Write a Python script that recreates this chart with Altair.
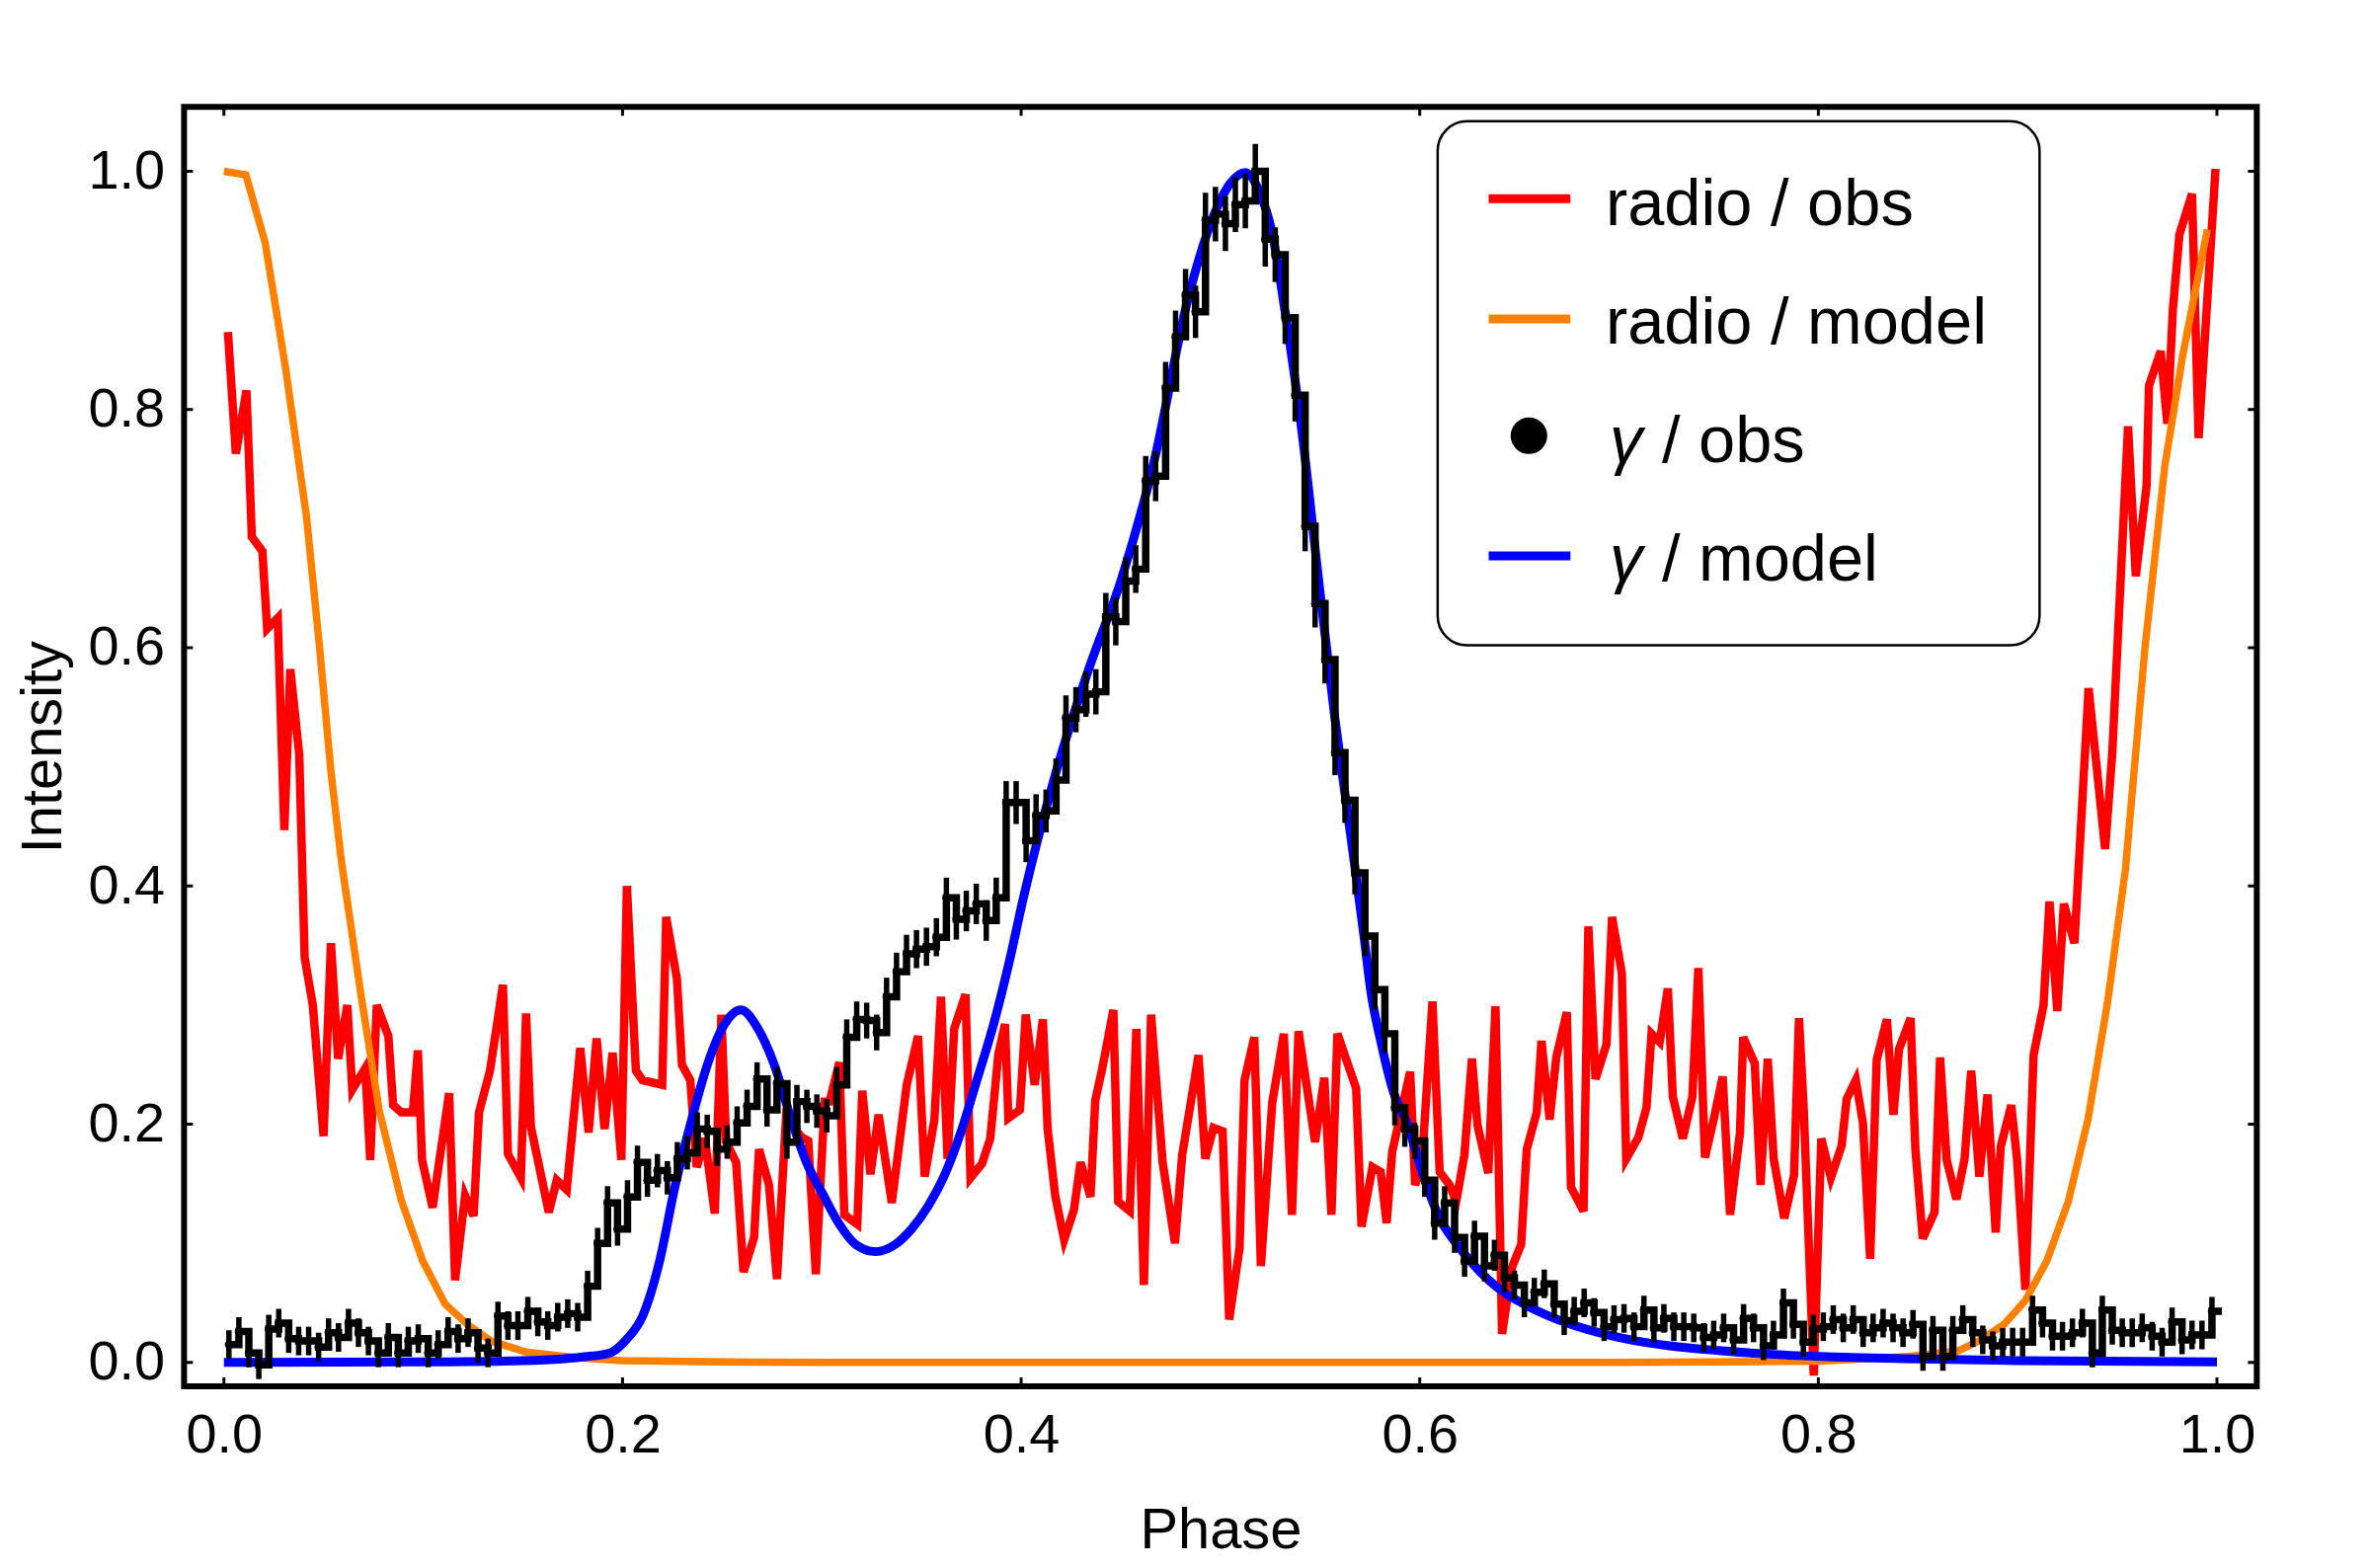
import altair as alt
import pandas as pd

# ---------------- data ----------------
# radio / obs (red) : vertices of the noisy profile
red_phase = [0.002, 0.006, 0.0113, 0.014, 0.0193, 0.0217, 0.027, 0.0303, 0.0333, 0.0378,
             0.0405, 0.0446, 0.050, 0.0537, 0.0573, 0.0619, 0.0644, 0.0709, 0.0734, 0.0767,
             0.0825, 0.0849, 0.089, 0.0948, 0.0973, 0.0994, 0.1047, 0.113, 0.116, 0.121,
             0.1253, 0.128, 0.1335, 0.140, 0.1425, 0.149, 0.1516, 0.154, 0.163, 0.167,
             0.172, 0.1788, 0.183, 0.187, 0.191, 0.195, 0.1994, 0.2022, 0.2067, 0.210,
             0.2199, 0.2219, 0.2273, 0.2298, 0.234, 0.2372, 0.2413, 0.2463, 0.2496, 0.252,
             0.257, 0.2607, 0.266, 0.2685, 0.2735, 0.2775, 0.282, 0.2899, 0.2932, 0.297,
             0.3014, 0.3039, 0.3088, 0.3113, 0.3178, 0.3203, 0.3244, 0.3285, 0.3351, 0.3426,
             0.3483, 0.3516, 0.3565, 0.3598, 0.3631, 0.3664, 0.3721, 0.3746, 0.3804, 0.3845,
             0.3886, 0.3919, 0.3936, 0.3994, 0.4023, 0.4068, 0.4109, 0.4133, 0.4171, 0.4216,
             0.4265, 0.4298, 0.4348, 0.4372, 0.4405, 0.4463, 0.4487, 0.4545, 0.4578, 0.4616,
             0.4652, 0.471, 0.4772, 0.4808, 0.489, 0.4924, 0.4965, 0.5011, 0.5044, 0.5096,
             0.5121, 0.517, 0.5203, 0.526, 0.5318, 0.5359, 0.5392, 0.5475, 0.5521, 0.5557,
             0.5587, 0.5681, 0.5708, 0.5763, 0.5804, 0.5834, 0.5862, 0.5952, 0.5977, 0.601,
             0.6064, 0.610, 0.615, 0.6183, 0.6224, 0.6262, 0.629, 0.6344, 0.638, 0.6413,
             0.6463, 0.6509, 0.6537, 0.6587, 0.6611, 0.6652, 0.6685, 0.6738, 0.6759, 0.6822,
             0.6846, 0.6882, 0.6937, 0.6965, 0.7014, 0.7036, 0.7097, 0.7138, 0.7163, 0.7204,
             0.7245, 0.727, 0.732, 0.7368, 0.7398, 0.7431, 0.7475, 0.752, 0.7557, 0.7607,
             0.7623, 0.7681, 0.771, 0.7746, 0.7776, 0.7829, 0.7878, 0.7903, 0.7927, 0.7977,
             0.8015, 0.8063, 0.8117, 0.8142, 0.8188, 0.8224, 0.826, 0.8293, 0.8344, 0.8377,
             0.8405, 0.8463, 0.8487, 0.8524, 0.8583, 0.8611, 0.8644, 0.8693, 0.8734, 0.8767,
             0.8808, 0.8849, 0.889, 0.8915, 0.8968, 0.8997, 0.9039, 0.908, 0.913, 0.916,
             0.9199, 0.9232, 0.9285, 0.9356, 0.9439, 0.9475, 0.9554, 0.9593, 0.9647, 0.9659,
             0.9718, 0.9751, 0.9779, 0.9812, 0.9875, 0.9908, 0.9993]
red_value = [0.865, 0.763, 0.816, 0.693, 0.681, 0.616, 0.625, 0.447, 0.582, 0.510,
             0.340, 0.300, 0.190, 0.352, 0.255, 0.300, 0.229, 0.247, 0.170, 0.300,
             0.274, 0.216, 0.210, 0.210, 0.262, 0.170, 0.130, 0.226, 0.069, 0.140,
             0.123, 0.210, 0.245, 0.317, 0.175, 0.155, 0.293, 0.198, 0.126, 0.153,
             0.145, 0.264, 0.193, 0.272, 0.196, 0.260, 0.170, 0.400, 0.245, 0.237,
             0.233, 0.374, 0.322, 0.250, 0.237, 0.164, 0.188, 0.125, 0.292, 0.185,
             0.168, 0.076, 0.105, 0.179, 0.149, 0.070, 0.205, 0.189, 0.186, 0.074,
             0.219, 0.219, 0.252, 0.124, 0.116, 0.228, 0.158, 0.208, 0.134, 0.233,
             0.274, 0.156, 0.204, 0.307, 0.171, 0.280, 0.309, 0.155, 0.167, 0.188,
             0.259, 0.284, 0.205, 0.212, 0.292, 0.233, 0.288, 0.196, 0.140, 0.103,
             0.128, 0.168, 0.139, 0.220, 0.245, 0.296, 0.135, 0.127, 0.280, 0.065,
             0.292, 0.168, 0.100, 0.174, 0.258, 0.171, 0.197, 0.194, 0.036, 0.096,
             0.237, 0.273, 0.081, 0.218, 0.276, 0.124, 0.278, 0.185, 0.239, 0.124,
             0.276, 0.230, 0.114, 0.164, 0.160, 0.117, 0.177, 0.244, 0.149, 0.165,
             0.303, 0.160, 0.149, 0.135, 0.174, 0.255, 0.199, 0.159, 0.299, 0.024,
             0.080, 0.099, 0.179, 0.210, 0.270, 0.204, 0.256, 0.294, 0.147, 0.127,
             0.366, 0.238, 0.267, 0.374, 0.327, 0.171, 0.189, 0.214, 0.276, 0.269,
             0.314, 0.223, 0.188, 0.223, 0.331, 0.172, 0.204, 0.240, 0.124, 0.193,
             0.273, 0.251, 0.149, 0.255, 0.171, 0.121, 0.157, 0.289, 0.212, -0.011,
             0.188, 0.155, 0.182, 0.221, 0.237, 0.201, 0.087, 0.254, 0.288, 0.208,
             0.263, 0.289, 0.179, 0.104, 0.126, 0.256, 0.170, 0.137, 0.171, 0.245,
             0.156, 0.225, 0.109, 0.181, 0.216, 0.171, 0.061, 0.258, 0.300, 0.387,
             0.295, 0.385, 0.352, 0.566, 0.431, 0.512, 0.786, 0.660, 0.736, 0.820,
             0.849, 0.788, 0.884, 0.947, 0.981, 0.776, 1.002]

# radio / model (orange)
orange_phase = [0.0, 0.011, 0.0207, 0.031, 0.0415, 0.048, 0.0537, 0.059, 0.069, 0.078,
                0.089, 0.0998, 0.111, 0.1228, 0.134, 0.152, 0.177, 0.200, 0.250, 0.300,
                0.400, 0.500, 0.600, 0.700, 0.800, 0.8454, 0.8701, 0.8817, 0.8932, 0.9039,
                0.9146, 0.9254, 0.9353, 0.9452, 0.9541, 0.9639, 0.9738, 0.9829, 0.9952]
orange_value = [1.0, 0.997, 0.940, 0.834, 0.709, 0.600, 0.496, 0.420, 0.306, 0.211,
                0.136, 0.085, 0.049, 0.031, 0.018, 0.0085, 0.004, 0.0015, 0.0005, 0.0,
                0.0, 0.0, 0.0, 0.0, 0.001, 0.005, 0.0097, 0.019, 0.032, 0.052,
                0.085, 0.135, 0.204, 0.303, 0.414, 0.600, 0.752, 0.846, 0.951]

# gamma / model (blue)
blue_phase = [0.0, 0.10, 0.15, 0.17, 0.1825, 0.1936, 0.2018, 0.2101, 0.2183, 0.2265,
              0.2347, 0.2430, 0.2512, 0.2594, 0.2677, 0.2759, 0.2841, 0.2923, 0.3006, 0.3088,
              0.3170, 0.3269, 0.3368, 0.3450, 0.3532, 0.3615, 0.3697, 0.3778, 0.3862, 0.3944,
              0.4010, 0.4174, 0.4339, 0.4504, 0.4668, 0.4833, 0.4998, 0.5050, 0.5125, 0.5190,
              0.5261, 0.5327, 0.5410, 0.5492, 0.5575, 0.5657, 0.5720, 0.5755, 0.5804, 0.5870,
              0.5936, 0.6018, 0.6100, 0.6183, 0.6265, 0.6347, 0.6430, 0.6512, 0.6594, 0.6759,
              0.6924, 0.7088, 0.7253, 0.7500, 0.7746, 0.8010, 0.8500, 0.9000, 1.0]
blue_value = [0.0, 0.0005, 0.0015, 0.003, 0.005, 0.008, 0.019, 0.039, 0.083, 0.149,
              0.204, 0.252, 0.284, 0.296, 0.281, 0.251, 0.207, 0.168, 0.141, 0.116,
              0.099, 0.093, 0.099, 0.112, 0.131, 0.157, 0.193, 0.237, 0.284, 0.339,
              0.389, 0.495, 0.582, 0.658, 0.757, 0.890, 0.975, 0.990, 0.999, 0.985,
              0.947, 0.879, 0.780, 0.658, 0.540, 0.438, 0.358, 0.311, 0.270, 0.226,
              0.201, 0.157, 0.121, 0.100, 0.083, 0.069, 0.058, 0.050, 0.043, 0.032,
              0.024, 0.018, 0.014, 0.010, 0.007, 0.005, 0.003, 0.0015, 0.0005]

# gamma / obs (black histogram, 200 bins of width 0.005)
gamma_value = [0.015, 0.026, 0.008, -0.002, 0.028, 0.033, 0.020, 0.018, 0.018, 0.013,
               0.025, 0.021, 0.033, 0.025, 0.018, 0.008, 0.021, 0.008, 0.018, 0.020,
               0.008, 0.015, 0.026, 0.020, 0.025, 0.012, 0.008, 0.039, 0.031, 0.031,
               0.043, 0.034, 0.031, 0.038, 0.041, 0.038, 0.064, 0.100, 0.134, 0.112,
               0.139, 0.168, 0.153, 0.161, 0.155, 0.171, 0.176, 0.196, 0.194, 0.179,
               0.185, 0.201, 0.215, 0.238, 0.212, 0.234, 0.185, 0.219, 0.215, 0.211,
               0.207, 0.233, 0.273, 0.288, 0.287, 0.277, 0.307, 0.328, 0.343, 0.347,
               0.349, 0.357, 0.390, 0.372, 0.379, 0.385, 0.371, 0.390, 0.470, 0.470,
               0.438, 0.459, 0.463, 0.489, 0.541, 0.548, 0.561, 0.563, 0.626, 0.622,
               0.656, 0.666, 0.740, 0.744, 0.818, 0.861, 0.896, 0.882, 0.959, 0.964,
               0.956, 0.972, 0.975, 1.000, 0.943, 0.930, 0.877, 0.812, 0.702, 0.637,
               0.590, 0.512, 0.472, 0.411, 0.358, 0.313, 0.276, 0.214, 0.196, 0.186,
               0.153, 0.117, 0.134, 0.105, 0.085, 0.106, 0.081, 0.090, 0.071, 0.065,
               0.050, 0.059, 0.066, 0.049, 0.035, 0.043, 0.050, 0.042, 0.030, 0.036,
               0.037, 0.030, 0.044, 0.029, 0.037, 0.030, 0.030, 0.029, 0.021, 0.023,
               0.029, 0.019, 0.037, 0.029, 0.014, 0.023, 0.050, 0.032, 0.017, 0.028,
               0.030, 0.036, 0.029, 0.036, 0.025, 0.029, 0.033, 0.029, 0.025, 0.032,
               0.005, 0.027, 0.005, 0.027, 0.036, 0.025, 0.019, 0.014, 0.017, 0.017,
               0.017, 0.044, 0.033, 0.022, 0.022, 0.025, 0.033, 0.008, 0.044, 0.027,
               0.025, 0.025, 0.029, 0.022, 0.017, 0.034, 0.019, 0.023, 0.023, 0.043]
gamma_err = [0.012, 0.012, 0.012, 0.012, 0.012, 0.012, 0.012, 0.012, 0.012, 0.012,
             0.012, 0.012, 0.012, 0.012, 0.012, 0.012, 0.012, 0.012, 0.012, 0.012,
             0.012, 0.012, 0.012, 0.012, 0.012, 0.012, 0.012, 0.012, 0.012, 0.012,
             0.012, 0.012, 0.012, 0.012, 0.012, 0.012, 0.013, 0.013, 0.014, 0.014,
             0.014, 0.014, 0.014, 0.014, 0.014, 0.014, 0.014, 0.014, 0.014, 0.014,
             0.014, 0.014, 0.014, 0.014, 0.014, 0.014, 0.014, 0.014, 0.014, 0.014,
             0.014, 0.015, 0.015, 0.015, 0.015, 0.015, 0.016, 0.016, 0.016, 0.016,
             0.016, 0.016, 0.017, 0.017, 0.017, 0.017, 0.017, 0.017, 0.018, 0.018,
             0.018, 0.018, 0.018, 0.018, 0.019, 0.019, 0.019, 0.019, 0.020, 0.020,
             0.020, 0.020, 0.021, 0.021, 0.022, 0.022, 0.022, 0.022, 0.023, 0.023,
             0.023, 0.023, 0.023, 0.023, 0.023, 0.023, 0.022, 0.022, 0.021, 0.020,
             0.020, 0.019, 0.019, 0.018, 0.017, 0.017, 0.016, 0.015, 0.015, 0.015,
             0.014, 0.014, 0.014, 0.013, 0.013, 0.013, 0.013, 0.013, 0.012, 0.012,
             0.012, 0.012, 0.012, 0.012, 0.012, 0.012, 0.012, 0.012, 0.012, 0.012,
             0.012, 0.012, 0.012, 0.012, 0.012, 0.012, 0.012, 0.012, 0.012, 0.012,
             0.012, 0.012, 0.012, 0.012, 0.012, 0.012, 0.012, 0.012, 0.012, 0.012,
             0.012, 0.012, 0.012, 0.012, 0.012, 0.012, 0.012, 0.012, 0.012, 0.012,
             0.012, 0.012, 0.012, 0.012, 0.012, 0.012, 0.012, 0.012, 0.012, 0.012,
             0.012, 0.012, 0.012, 0.012, 0.012, 0.012, 0.012, 0.012, 0.012, 0.012,
             0.012, 0.012, 0.012, 0.012, 0.012, 0.012, 0.012, 0.012, 0.012, 0.012]
bin_width = 0.005

tick_values = [0.0, 0.2, 0.4, 0.6, 0.8, 1.0]

legend_labels = ["radio / obs", "radio / model"]
legend_gamma_rest = ["/ obs", "/ model"]
legend_colors = ["#ff0000", "#ff8000", "#0000ff"]

# ---------------- frames ----------------
red_df = pd.DataFrame({"phase": red_phase, "intensity": red_value})
orange_df = pd.DataFrame({"phase": orange_phase, "intensity": orange_value})
blue_df = pd.DataFrame({"phase": blue_phase, "intensity": blue_value})

centers = [round(bin_width * (k + 0.5), 4) for k in range(len(gamma_value))]
pts_df = pd.DataFrame({
    "phase": centers,
    "intensity": gamma_value,
    "lo": [v - e for v, e in zip(gamma_value, gamma_err)],
    "hi": [v + e for v, e in zip(gamma_value, gamma_err)],
})
step_df = pd.DataFrame({
    "phase": centers + [round(centers[-1] + bin_width, 4)],
    "intensity": gamma_value + [gamma_value[-1]],
})
ticks_df = pd.DataFrame({"t": tick_values})

W, H = 2106, 1300
FONT = "Liberation Sans"

xs = alt.Scale(domain=[-0.02, 1.02], nice=False, zero=False)
ys = alt.Scale(domain=[-0.020, 1.054], nice=False, zero=False)
x_axis = alt.Axis(values=tick_values, format=".1f", title="Phase", labelPadding=23,
                  titleY=164, titleBaseline="alphabetic")
y_axis = alt.Axis(values=tick_values, format=".1f", title="Intensity", labelPadding=20,
                  titleX=-125, titleY=H / 2, titleAngle=270, titleBaseline="alphabetic",
                  titleAlign="center")


def X(field):
    return alt.X(field, type="quantitative", scale=xs, axis=x_axis)


def Y(field):
    return alt.Y(field, type="quantitative", scale=ys, axis=y_axis)


red = alt.Chart(red_df).mark_line(color="#ff0000", strokeWidth=8.5, clip=True).encode(
    x=X("phase"), y=Y("intensity"))
orange = alt.Chart(orange_df).mark_line(color="#ff8000", strokeWidth=7.5, clip=True).encode(
    x=X("phase"), y=Y("intensity"))
blue = alt.Chart(blue_df).mark_line(color="#0000ff", strokeWidth=9, clip=True,
                                    interpolate="monotone").encode(
    x=X("phase"), y=Y("intensity"))
errbars = alt.Chart(pts_df).mark_rule(color="black", strokeWidth=5.5, clip=True).encode(
    x=X("phase"), y=Y("lo"), y2="hi")
steps = alt.Chart(step_df).mark_line(color="black", strokeWidth=7.5, interpolate="step-after",
                                     clip=True).encode(x=X("phase"), y=Y("intensity"))
dots = alt.Chart(pts_df).mark_circle(color="black", size=70, opacity=1, clip=True).encode(
    x=X("phase"), y=Y("intensity"))

# small inward frame ticks
tl = alt.Chart(ticks_df).mark_rule(color="black", strokeWidth=3).encode(
    y=Y("t"), x=alt.value(0), x2=alt.value(9))
tr = alt.Chart(ticks_df).mark_rule(color="black", strokeWidth=3).encode(
    y=Y("t"), x=alt.value(W), x2=alt.value(W - 9))
tb = alt.Chart(ticks_df).mark_rule(color="black", strokeWidth=3).encode(
    x=X("t"), y=alt.value(H), y2=alt.value(H - 9))
tt = alt.Chart(ticks_df).mark_rule(color="black", strokeWidth=3).encode(
    x=X("t"), y=alt.value(0), y2=alt.value(9))

# ---------------- legend (drawn in plot coordinates) ----------------
box_df = pd.DataFrame({"x1": [0.609], "x2": [0.911], "y1": [0.602], "y2": [1.042]})
box = alt.Chart(box_df).mark_rect(fill="white", stroke="black", strokeWidth=2.5,
                                  cornerRadius=30).encode(
    x=X("x1"), x2="x2", y=Y("y1"), y2="y2")

sym_df = pd.DataFrame({"x1": [0.6346] * 3, "x2": [0.6756] * 3,
                       "y": [0.977, 0.876, 0.677], "c": legend_colors})
syms = alt.Chart(sym_df).mark_rule(strokeWidth=9, strokeCap="butt").encode(
    x=X("x1"), x2="x2", y=Y("y"), color=alt.Color("c:N", scale=None))
dot_df = pd.DataFrame({"x": [0.6548], "y": [0.778]})
legdot = alt.Chart(dot_df).mark_circle(color="black", size=1385, opacity=1).encode(
    x=X("x"), y=Y("y"))

txt_df = pd.DataFrame({"x": [0.6933, 0.6933], "y": [0.955, 0.855], "label": legend_labels})
txt = alt.Chart(txt_df).mark_text(align="left", baseline="alphabetic", fontSize=67,
                                  font=FONT, color="black").encode(
    x=X("x"), y=Y("y"), text="label")
g_df = pd.DataFrame({"x": [0.6953, 0.6953], "y": [0.756, 0.656], "label": ["γ", "γ"]})
gtxt = alt.Chart(g_df).mark_text(align="left", baseline="alphabetic", fontSize=67,
                                 font=FONT, fontStyle="italic", color="black").encode(
    x=X("x"), y=Y("y"), text="label")
r_df = pd.DataFrame({"x": [0.7215, 0.7215], "y": [0.756, 0.656], "label": legend_gamma_rest})
rtxt = alt.Chart(r_df).mark_text(align="left", baseline="alphabetic", fontSize=67,
                                 font=FONT, color="black").encode(
    x=X("x"), y=Y("y"), text="label")

chart = alt.layer(
    red, orange, blue, errbars, steps, dots, tl, tr, tb, tt,
    box, syms, legdot, txt, gtxt, rtxt
).properties(
    width=W, height=H,
    autosize=alt.AutoSizeParams(type="none"),
    padding={"left": 179, "top": 98, "right": 107, "bottom": 174},
    background="white",
).configure_view(
    stroke="black", strokeWidth=6
).configure_axis(
    labelFont=FONT, labelFontSize=56, labelColor="black",
    titleFont=FONT, titleFontSize=58, titleFontWeight="normal", titleColor="black",
    grid=False, domain=False, ticks=False, tickSize=0,
)

chart.save("out.html", embed_options={"renderer": "svg", "actions": False})
